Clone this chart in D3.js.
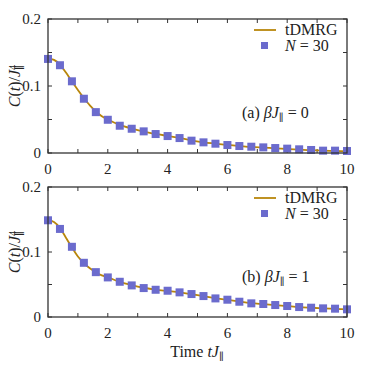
<!DOCTYPE html>
<html>
<head>
<meta charset="utf-8">
<script src="https://cdn.jsdelivr.net/npm/d3@7"></script>
<style>
  body { margin: 0; background: #fff; }
  text { font-family: "Liberation Serif", "DejaVu Serif", serif; }
</style>
</head>
<body>
<div id="graph"></div>
<script>
// N = 30 points (squares), shared time grid
var times = [0, 0.4, 0.8, 1.2, 1.6, 2.0, 2.4, 2.8, 3.2, 3.6, 4.0, 4.4, 4.8, 5.2, 5.6, 6.0, 6.4, 6.8, 7.2, 7.6, 8.0, 8.4, 8.8, 9.2, 9.6, 10];
var squaresA = [0.1404, 0.131, 0.107, 0.081, 0.061, 0.0496, 0.0407, 0.0362, 0.0323, 0.0283, 0.0253, 0.0223, 0.0184, 0.0159, 0.0139, 0.0119, 0.0104, 0.0094, 0.0084, 0.0074, 0.0065, 0.0055, 0.0045, 0.0035, 0.0035, 0.003];
var squaresB = [0.1488, 0.1355, 0.108, 0.0834, 0.069, 0.0609, 0.0542, 0.0486, 0.0445, 0.0419, 0.0404, 0.0379, 0.0353, 0.0322, 0.0286, 0.0266, 0.0235, 0.021, 0.020, 0.0184, 0.0169, 0.0153, 0.0143, 0.0133, 0.0128, 0.0118];

// tDMRG curves
var lineTimes = [0, 0.2, 0.4, 0.6, 0.8, 1.0, 1.2, 1.4, 1.6, 1.8, 2.0, 2.4, 2.8, 3.2, 3.6, 4.0, 4.4, 4.8, 5.2, 5.6, 6.0, 6.4, 6.8, 7.2, 7.6, 8.0, 8.4, 8.8, 9.2, 9.6, 10];
var lineA = [0.141, 0.139, 0.132, 0.120, 0.107, 0.094, 0.082, 0.071, 0.062, 0.055, 0.050, 0.042, 0.0365, 0.032, 0.0285, 0.0255, 0.0225, 0.019, 0.016, 0.014, 0.012, 0.0105, 0.009, 0.008, 0.007, 0.006, 0.005, 0.0042, 0.0035, 0.003, 0.0025];
var lineB = [0.149, 0.146, 0.137, 0.122, 0.107, 0.093, 0.083, 0.075, 0.069, 0.064, 0.061, 0.054, 0.049, 0.045, 0.042, 0.040, 0.038, 0.035, 0.032, 0.029, 0.0265, 0.0237, 0.0213, 0.0198, 0.0183, 0.0168, 0.0153, 0.0142, 0.0132, 0.0125, 0.0118];

var xTickLabels = [0, 2, 4, 6, 8, 10];
var yTickLabels = [0, 0.1, 0.2];
var panelLabels = [["(a) ", "0"], ["(b) ", "1"]];

var lineColor = "#b8860b";
var squareColor = "#6b6bcd";
var axisColor = "#333";

var svg = d3.select("#graph").append("svg")
    .attr("width", 374)
    .attr("height", 365);

var x = d3.scaleLinear().domain([0, 10]).range([48, 347]);

function txt(g) {
    return g.append("text").attr("fill", "#222");
}

// J with a "∥" subscript, optional superscript
function addJ(text, sup) {
    text.append("tspan").text("J").style("font-style", "italic");
    if (sup) {
        text.append("tspan").text(sup).attr("baseline-shift", "40%").style("font-size", "65%");
        text.append("tspan").text("\u2225").attr("dx", "-0.5em").attr("baseline-shift", "-25%").style("font-size", "65%");
    } else {
        text.append("tspan").text("\u2225").attr("baseline-shift", "-25%").style("font-size", "65%");
    }
}

function panel(top, bottom, sq, ln, label) {
    var y = d3.scaleLinear().domain([0, 0.2]).range([bottom, top]);
    var g = svg.append("g");

    // ticks, inward on all sides
    var xt = d3.range(0, 11, 1);
    var yt = d3.range(0, 0.2001, 0.05);
    g.selectAll(".xtb").data(xt).enter().append("line")
        .attr("x1", d => x(d)).attr("x2", d => x(d))
        .attr("y1", bottom).attr("y2", bottom - 4)
        .attr("stroke", axisColor).attr("stroke-width", 1);
    g.selectAll(".xtt").data(xt).enter().append("line")
        .attr("x1", d => x(d)).attr("x2", d => x(d))
        .attr("y1", top).attr("y2", top + 4)
        .attr("stroke", axisColor).attr("stroke-width", 1);
    g.selectAll(".ytl").data(yt).enter().append("line")
        .attr("x1", 48).attr("x2", 52)
        .attr("y1", d => y(d)).attr("y2", d => y(d))
        .attr("stroke", axisColor).attr("stroke-width", 1);
    g.selectAll(".ytr").data(yt).enter().append("line")
        .attr("x1", 347).attr("x2", 343)
        .attr("y1", d => y(d)).attr("y2", d => y(d))
        .attr("stroke", axisColor).attr("stroke-width", 1);

    // tick labels
    xTickLabels.forEach(function(d) {
        txt(g).attr("x", x(d)).attr("y", bottom + 21)
            .attr("text-anchor", "middle").style("font-size", "15px")
            .text(d);
    });
    yTickLabels.forEach(function(d) {
        txt(g).attr("x", 41).attr("y", y(d) + 5)
            .attr("text-anchor", "end").style("font-size", "15px")
            .text(d === 0 ? "0" : d.toFixed(1));
    });

    // y label
    var yl = txt(g)
        .attr("transform", "translate(20," + ((top + bottom) / 2) + ") rotate(-90)")
        .attr("text-anchor", "middle").style("font-size", "16px");
    yl.append("tspan").text("C").style("font-style", "italic");
    yl.append("tspan").text("(");
    yl.append("tspan").text("t").style("font-style", "italic");
    yl.append("tspan").text(")/");
    addJ(yl, "4");

    // data
    var lineGen = d3.line()
        .x((d, i) => x(lineTimes[i]))
        .y(d => y(d))
        .curve(d3.curveMonotoneX);
    g.append("path").datum(ln)
        .attr("fill", "none").attr("stroke", lineColor).attr("stroke-width", 1.8)
        .attr("d", lineGen);
    g.selectAll(".sq").data(sq).enter().append("rect")
        .attr("x", (d, i) => x(times[i]) - 4)
        .attr("y", d => y(d) - 4)
        .attr("width", 8).attr("height", 8)
        .attr("fill", squareColor);

    // frame
    g.append("rect")
        .attr("x", 48).attr("y", top)
        .attr("width", 299).attr("height", bottom - top)
        .attr("fill", "none").attr("stroke", axisColor).attr("stroke-width", 1.3);

    // legend
    g.append("line").attr("x1", 254).attr("x2", 276)
        .attr("y1", top + 11).attr("y2", top + 11)
        .attr("stroke", lineColor).attr("stroke-width", 1.8);
    txt(g).attr("x", 285).attr("y", top + 16)
        .style("font-size", "16px").text("tDMRG");
    g.append("rect").attr("x", 261).attr("y", top + 23)
        .attr("width", 7).attr("height", 7).attr("fill", squareColor);
    var nl = txt(g).attr("x", 285).attr("y", top + 32)
        .style("font-size", "16px");
    nl.append("tspan").text("N").style("font-style", "italic");
    nl.append("tspan").text(" = 30");

    // panel label
    var pl = txt(g).attr("x", 242).attr("y", bottom - 35)
        .style("font-size", "16px");
    pl.append("tspan").text(label[0]);
    pl.append("tspan").text("\u03b2").style("font-style", "italic");
    addJ(pl);
    pl.append("tspan").text(" = " + label[1]);
}

panel(19, 153, squaresA, lineA, panelLabels[0]);
panel(187, 317, squaresB, lineB, panelLabels[1]);

// x axis title
var xl = txt(svg).attr("x", 197).attr("y", 357)
    .attr("text-anchor", "middle").style("font-size", "16px");
xl.append("tspan").text("Time ");
xl.append("tspan").text("t").style("font-style", "italic");
addJ(xl);
</script>
</body>
</html>
